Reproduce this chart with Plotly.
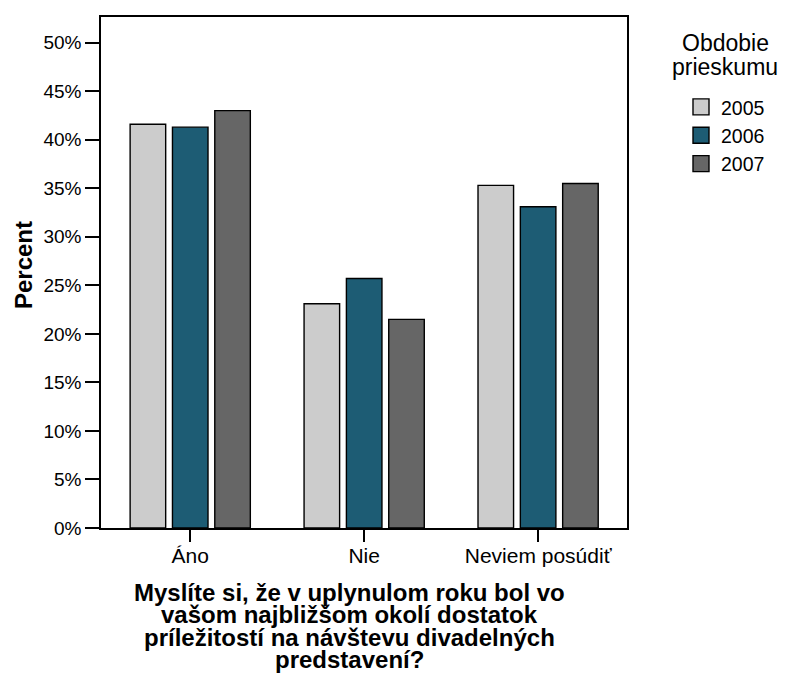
import plotly.graph_objects as go

categories = ["Áno", "Nie", "Neviem posúdiť"]
years = ["2005", "2006", "2007"]
values_2005 = [41.6, 23.1, 35.3]
values_2006 = [41.3, 25.7, 33.1]
values_2007 = [43.0, 21.5, 35.5]
series = [values_2005, values_2006, values_2007]
colors = ["#cccccc", "#1d5c74", "#666666"]
y_ticks = [0, 5, 10, 15, 20, 25, 30, 35, 40, 45, 50]
legend_title_lines = ["Obdobie", "prieskumu"]
x_title_lines = [
    "Myslíte si, že v uplynulom roku bol vo",
    "vašom najbližšom okolí dostatok",
    "príležitostí na návštevu divadelných",
    "predstavení?",
]

# page body has an 8px default margin; size the figure to fit the window
OFF = 8
W, H = 791 - OFF, 686 - OFF
# plot area in window pixels
L, R, T, B = 101, 627, 15, 528
pw, ph = R - L, B - T

FONT = "Liberation Sans, Arial, sans-serif"


def px(xp):
    return (xp - L) / pw


def py(yp):
    return (B - yp) / ph


fig = go.Figure()
for yr, vals, col in zip(years, series, colors):
    fig.add_trace(go.Bar(
        x=categories, y=vals, name=yr, showlegend=False,
        marker=dict(color=col, line=dict(color="black", width=1.4)),
    ))
# legend entries (no data drawn)
for yr, col in zip(years, colors):
    fig.add_trace(go.Scatter(
        x=[None], y=[None], mode="markers", name=yr,
        marker=dict(symbol="square", size=16, color=col,
                    line=dict(color="black", width=1.4)),
    ))

fig.update_layout(
    width=W, height=H,
    margin=dict(l=L - OFF, r=791 - R, t=T - OFF, b=686 - B, pad=0),
    paper_bgcolor="white", plot_bgcolor="white",
    barmode="group", bargap=0.27, bargroupgap=0.16,
    font=dict(family=FONT, color="black"),
    showlegend=True,
    legend=dict(
        x=px(681), y=py(86), xanchor="left", yanchor="top",
        font=dict(size=19.5, family=FONT),
        bgcolor="rgba(0,0,0,0)", itemsizing="trace",
    ),
)

fig.update_xaxes(
    range=[-0.513, 2.511], showline=True, linecolor="black", linewidth=1.5,
    mirror=True, ticks="outside", ticklen=12, tickwidth=1.5, tickcolor="black",
    tickfont=dict(size=21, family=FONT), showgrid=False, zeroline=False,
    ticklabelstandoff=-4,
)
fig.update_yaxes(
    range=[0, 52.65], tickvals=y_ticks, ticktext=[f"{v}%" for v in y_ticks],
    showline=True, linecolor="black", linewidth=1.5, mirror=True,
    ticks="outside", ticklen=14, tickwidth=1.5, tickcolor="black",
    tickfont=dict(size=19, family=FONT), showgrid=False, zeroline=False,
)

# y-axis title
fig.add_annotation(
    text="<b>Percent</b>", textangle=-90, showarrow=False,
    xref="paper", yref="paper",
    x=px(23), y=py(264), xanchor="center", yanchor="middle",
    font=dict(size=24, family=FONT),
)
# x-axis title lines
for i, line in enumerate(x_title_lines):
    fig.add_annotation(
        text=f"<b>{line}</b>", showarrow=False,
        xref="paper", yref="paper",
        x=px(349), y=py(593 + 22.3 * i),
        xanchor="center", yanchor="middle",
        font=dict(size=24, family=FONT),
    )
# legend title lines
for i, line in enumerate(legend_title_lines):
    fig.add_annotation(
        text=line, showarrow=False,
        xref="paper", yref="paper",
        x=px(725), y=py(41 + 24 * i),
        xanchor="center", yanchor="middle",
        font=dict(size=23, family=FONT),
    )

fig.write_html("out.html")
